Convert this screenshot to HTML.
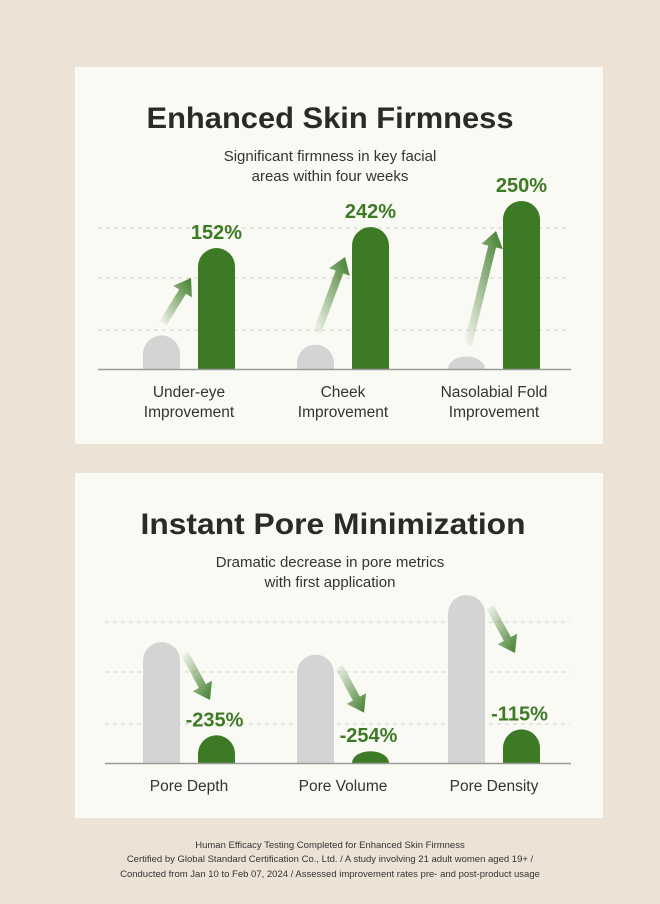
<!DOCTYPE html>
<html><head><meta charset="utf-8"><style>
html,body{margin:0;padding:0;background:#ede2d6;}
svg{display:block;font-family:"Liberation Sans",sans-serif;}
</style></head><body>
<svg id="root" width="660" height="904" viewBox="0 0 660 904">
<defs>
<linearGradient id="gup" x1="0" y1="1" x2="1" y2="0"><stop offset="0" stop-color="#3f7d2a" stop-opacity="0"/><stop offset="1" stop-color="#3f7d2a"/></linearGradient>
<linearGradient id="gdn" x1="0" y1="0" x2="1" y2="1"><stop offset="0" stop-color="#3f7d2a" stop-opacity="0"/><stop offset="1" stop-color="#3f7d2a"/></linearGradient>
</defs>
<rect x="0" y="0" width="660" height="904" fill="#ede2d6"/>
<rect x="75" y="67" width="528" height="377" fill="#fafaf4"/>
<rect x="75" y="473" width="528" height="345" fill="#fafaf4"/>
<text x="330" y="128" text-anchor="middle" font-size="30" font-weight="bold" fill="#2a2a2a" textLength="367" lengthAdjust="spacingAndGlyphs">Enhanced Skin Firmness</text>
<text x="330" y="161" text-anchor="middle" font-size="15" fill="#333">Significant firmness in key facial</text>
<text x="330" y="181" text-anchor="middle" font-size="15" fill="#333">areas within four weeks</text>
<text x="333" y="534" text-anchor="middle" font-size="30" font-weight="bold" fill="#2a2a2a" textLength="385" lengthAdjust="spacingAndGlyphs">Instant Pore Minimization</text>
<text x="330" y="567" text-anchor="middle" font-size="15" fill="#333">Dramatic decrease in pore metrics</text>
<text x="330" y="587" text-anchor="middle" font-size="15" fill="#333">with first application</text>
<g id="c1"></g><g id="c2"></g>
<text x="330" y="848" text-anchor="middle" font-size="9.5" fill="#333">Human Efficacy Testing Completed for Enhanced Skin Firmness</text>
<text x="330" y="862" text-anchor="middle" font-size="9.5" fill="#333">Certified by Global Standard Certification Co., Ltd. / A study involving 21 adult women aged 19+ /</text>
<text x="330" y="877" text-anchor="middle" font-size="9.5" fill="#333">Conducted from Jan 10 to Feb 07, 2024 / Assessed improvement rates pre- and post-product usage</text>
</svg>
<script>
const firmCategories = [["Under-eye","Improvement"],["Cheek","Improvement"],["Nasolabial Fold","Improvement"]];
const firmBefore = [40, 29, 15];
const firmAfter = [144, 169, 200];
const firmLabels = ["152%","242%","250%"];
const poreCategories = ["Pore Depth","Pore Volume","Pore Density"];
const poreBefore = [144, 129, 200];
const poreAfter = [33, 14, 40];
const poreLabels = ["-235%","-254%","-115%"];

const NS="http://www.w3.org/2000/svg";
function mk(p,tag,attrs){const e=document.createElementNS(NS,tag);for(const k in attrs)e.setAttribute(k,attrs[k]);p.appendChild(e);return e;}
function bar(p,x,w,yTop,base,fill){
  const r=w/2, h=base-yTop;
  const rr=Math.min(r,h);
  return mk(p,'path',{d:`M${x},${base} L${x},${yTop+rr} A${r},${rr} 0 0 1 ${x+w},${yTop+rr} L${x+w},${base} Z`,fill});
}
function arrow(p,x1,y1,x2,y2,grad){
  const dx=x2-x1,dy=y2-y1,L=Math.hypot(dx,dy),ux=dx/L,uy=dy/L,nx=-uy,ny=ux;
  const hl=16,hw=11,sw=4;
  const bx=x2-ux*hl,by=y2-uy*hl;
  const pts=[[x1+nx*sw,y1+ny*sw],[bx+nx*sw,by+ny*sw],[bx+nx*hw,by+ny*hw],[x2,y2],[bx-nx*hw,by-ny*hw],[bx-nx*sw,by-ny*sw],[x1-nx*sw,y1-ny*sw]];
  return mk(p,'polygon',{points:pts.map(q=>q.join(',')).join(' '),fill:'url(#'+grad+')'});
}
function chart(gid,cfg){
  const g=document.getElementById(gid);
  const y=v=>cfg.base-v*0.84;
  const xs=[143,297,448], bw=37, gap=55;
  cfg.grid.forEach(gy=>{const l=mk(g,'line',{x1:cfg.ax1,x2:570,y1:gy,y2:gy,stroke:'#d2d2cc','stroke-dasharray':'4,4','stroke-width':1});
    
    });
  cfg.before.forEach((v,i)=>{
    const gx=xs[i], gxx=gx+gap;
    const b1=bar(g,gx,bw,y(v),cfg.base,'#d4d4d4');
    
    
    const b2=bar(g,gxx,bw,y(cfg.after[i]),cfg.base,'#3d7a25');
    
    
    let a;
    if(cfg.up){a=arrow(g,gx+20,y(v)-12,gx+48,Math.min(y(cfg.after[i])+30,y(v)-40),'gup');}
    else{a=arrow(g,gx+42,y(v)+12,gx+67,y(v)+58,'gdn');}
    
    
    const ly=cfg.up? y(cfg.after[i])-9 : y(cfg.after[i])-9;
    const t=mk(g,'text',{x:gxx+bw/2+(cfg.up?0:-2),y:ly,'text-anchor':'middle','font-size':20,'font-weight':'bold',fill:'#3d7a25'});
    t.textContent=cfg.labels[i];
    
    
    const cats=Array.isArray(cfg.cats[i])?cfg.cats[i]:[cfg.cats[i]];
    cats.forEach((c,j)=>{const ct=mk(g,'text',{x:(gx+gxx+bw)/2,y:cfg.base+cfg.catY+j*20,'text-anchor':'middle','font-size':15.5,fill:'#333'});
      ct.textContent=c;
      
      });
  });
  const ax=mk(g,'line',{x1:cfg.ax1,x2:571,y1:cfg.base+0.5,y2:cfg.base+0.5,stroke:'#999','stroke-width':1.5});
  
  
}
chart('c1',{base:369,before:firmBefore,after:firmAfter,labels:firmLabels,cats:firmCategories,grid:[228,278,330],ax1:98,up:true,catY:28});
chart('c2',{base:763,before:poreBefore,after:poreAfter,labels:poreLabels,cats:poreCategories,grid:[622,672,724],ax1:105,up:false,catY:28});
</script>
</body></html>
